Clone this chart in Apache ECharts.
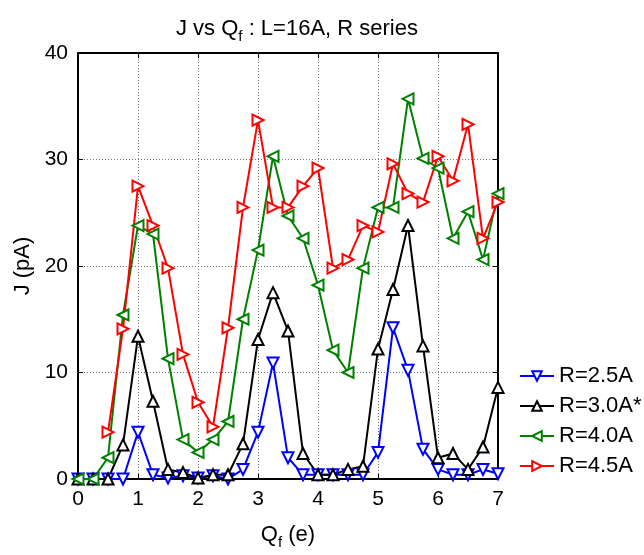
<!DOCTYPE html>
<html>
<head>
<meta charset="utf-8">
<script src="https://cdn.jsdelivr.net/npm/echarts@6/dist/echarts.min.js"></script>
<style>
  html, body { margin: 0; padding: 0; background: #fff; }
  #chart { width: 644px; height: 555px; }
</style>
</head>
<body>
<div id="chart"></div>
<script>
var qf = [0, 0.25, 0.5, 0.75, 1, 1.25, 1.5, 1.75, 2, 2.25, 2.5, 2.75, 3, 3.25, 3.5, 3.75,
          4, 4.25, 4.5, 4.75, 5, 5.25, 5.5, 5.75, 6, 6.25, 6.5, 6.75, 7];

var r25 = [0, 0, 0, 0, 4.4, 0.4, 0.1, 0.3, 0.1, 0.3, 0.0, 0.9, 4.4, 10.9, 2.0, 0.4,
           0.4, 0.4, 0.4, 0.4, 2.5, 14.2, 10.2, 2.8, 0.9, 0.4, 0.4, 0.9, 0.5];
var r30 = [0, 0, 0, 3.2, 13.4, 7.3, 0.9, 0.6, 0.1, 0.4, 0.4, 3.3, 13.1, 17.5, 13.9, 2.4,
           0.4, 0.4, 0.9, 1.2, 12.2, 17.8, 23.8, 12.5, 2.0, 2.4, 0.9, 3.0, 8.6];
var r40 = [0, 0, 2.0, 15.4, 23.8, 23.0, 11.3, 3.7, 2.5, 3.7, 5.4, 15.0, 21.5, 30.3, 24.7, 22.6,
           18.2, 12.1, 10.0, 19.8, 25.5, 25.5, 35.7, 30.1, 29.2, 22.6, 25.1, 20.6, 26.8];
var r45 = [null, null, 4.4, 14.1, 27.5, 23.8, 19.8, 11.7, 7.2, 4.9, 14.2, 25.5, 33.7, 25.5, 25.5, 27.5,
           29.2, 19.8, 20.6, 23.8, 23.2, 29.6, 26.8, 26.0, 30.3, 28.0, 33.3, 22.6, 26.0];

var xTicks = [0, 1, 2, 3, 4, 5, 6, 7];
var yTicks = [0, 10, 20, 30, 40];

function pairs(ys) {
  return qf.map(function (x, i) { return [x, ys[i]]; });
}

var font = 'Liberation Sans, Arial, sans-serif';

function mkSeries(name, ys, color, rot) {
  return {
    name: name,
    type: 'line',
    data: pairs(ys),
    symbol: 'emptyTriangle',
    symbolSize: 11,
    symbolRotate: rot,
    lineStyle: { color: color, width: 2 },
    itemStyle: { color: color, borderColor: color, borderWidth: 2 },
    connectNulls: false,
    animation: false,
    z: 3
  };
}

var chart = echarts.init(document.getElementById('chart'));
chart.setOption({
  backgroundColor: '#fff',
  animation: false,
  title: {
    text: 'J vs Q{s|f} : L=16A, R series',
    left: 292, top: 8, textAlign: 'center',
    textStyle: {
      fontFamily: font, fontSize: 22, fontWeight: 'normal', color: '#000',
      rich: { s: { fontFamily: font, fontSize: 15, color: '#000', padding: [16, 0, 0, 0] } }
    }
  },
  grid: { left: 78, right: 146, top: 53, bottom: 72, containLabel: false },
  legend: {
    orient: 'vertical',
    left: 514, top: 360,
    itemWidth: 34, itemHeight: 12, itemGap: 8,
    textStyle: { fontFamily: font, fontSize: 22, color: '#000' },
    data: ['R=2.5A', 'R=3.0A*', 'R=4.0A', 'R=4.5A']
  },
  xAxis: [{
    type: 'value', min: 0, max: 7, interval: 1,
    name: 'Q{s|f} (e)', nameLocation: 'middle', nameGap: 40,
    nameTextStyle: {
      fontFamily: font, fontSize: 22, color: '#000',
      rich: { s: { fontFamily: font, fontSize: 15, color: '#000', padding: [16, 0, 0, 0] } }
    },
    axisLine: { onZero: false, lineStyle: { color: '#000', width: 2 } },
    axisTick: { inside: true, length: 5, lineStyle: { color: '#000', width: 1 } },
    axisLabel: { fontFamily: font, fontSize: 21, color: '#000', margin: 10,
      formatter: function (v) { return xTicks.indexOf(v) >= 0 ? String(v) : ''; } },
    splitLine: { show: true, lineStyle: { color: '#777', type: [1, 2], width: 1 } }
  }, {
    type: 'value', min: 0, max: 7, interval: 1, position: 'top',
    axisLine: { onZero: false, lineStyle: { color: '#000', width: 2 } },
    axisTick: { inside: true, length: 5, lineStyle: { color: '#000', width: 1 } },
    axisLabel: { show: false },
    splitLine: { show: false }
  }],
  yAxis: [{
    type: 'value', min: 0, max: 40, interval: 10,
    name: 'J (pA)', nameLocation: 'middle', nameGap: 43, nameRotate: 90,
    nameTextStyle: { fontFamily: font, fontSize: 22, color: '#000' },
    axisLine: { onZero: false, lineStyle: { color: '#000', width: 2 } },
    axisTick: { inside: true, length: 5, lineStyle: { color: '#000', width: 1 } },
    axisLabel: { fontFamily: font, fontSize: 21, color: '#000', margin: 10,
      formatter: function (v) { return yTicks.indexOf(v) >= 0 ? String(v) : ''; } },
    splitLine: { show: true, lineStyle: { color: '#777', type: [1, 2], width: 1 } }
  }, {
    type: 'value', min: 0, max: 40, interval: 10, position: 'right',
    axisLine: { onZero: false, lineStyle: { color: '#000', width: 2 } },
    axisTick: { inside: true, length: 5, lineStyle: { color: '#000', width: 1 } },
    axisLabel: { show: false },
    splitLine: { show: false }
  }],
  series: [
    mkSeries('R=2.5A', r25, '#0000ff', 180),
    mkSeries('R=3.0A*', r30, '#000000', 0),
    mkSeries('R=4.0A', r40, '#008000', 90),
    mkSeries('R=4.5A', r45, '#ff0000', -90)
  ]
});
</script>
</body>
</html>
